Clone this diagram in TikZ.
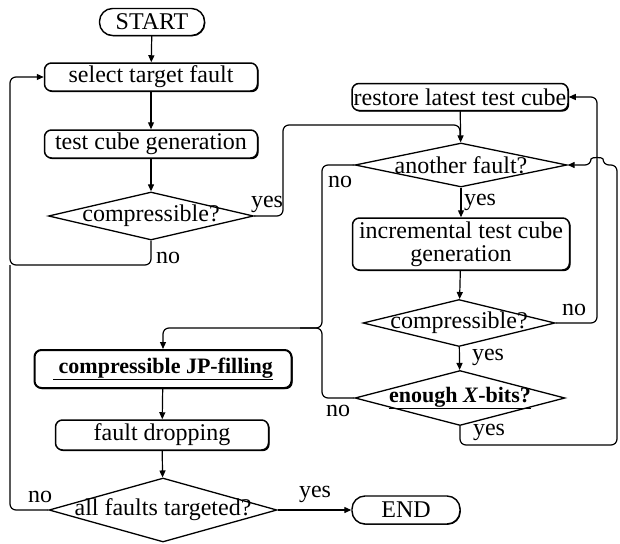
\documentclass[tikz,border=0pt]{standalone}
\usepackage{fontspec}
\setmainfont{Liberation Serif}
\usetikzlibrary{arrows.meta,shapes.geometric,shadows}

\begin{document}
\begin{tikzpicture}[x=1pt,y=-1pt,
  font=\fontsize{24}{25}\selectfont,
  emph/.style={font=\fontsize{22}{24}\selectfont\bfseries},
  shadowed/.style={general shadow={fill=black, shadow xshift=1.2pt, shadow yshift=-1.2pt}},
  procbox/.style={draw, line width=1.5pt, rounded corners=7pt, fill=white,
    minimum width=213pt, minimum height=28pt, inner sep=0pt, align=center, shadowed},
  termbox/.style={draw, line width=1.4pt, rounded corners=13pt, fill=white,
    minimum width=105pt, minimum height=27pt, inner sep=0pt,
    general shadow={fill=black, shadow xshift=0.8pt, shadow yshift=-0.8pt}},
  decision/.style={draw, diamond, line width=1.3pt, inner sep=0pt, fill=white},
  conn/.style={line width=1.2pt, rounded corners=6pt},
  arr/.style={conn, -{Triangle[length=7pt,width=6pt]}},
  tag/.style={inner sep=0pt}
]
\useasboundingbox (0,0) rectangle (620,543);

% left column
\node[termbox] (start) at (152,22) {START};
\node[procbox] (select) at (151,77) {select target fault};
\node[procbox] (tcg) at (151,144) {test cube generation};
\node[decision, minimum width=205pt, minimum height=48pt,
  label={center:compressible?}] (cmp1) at (151,216) {};

% right column
\node[procbox, minimum width=216pt, minimum height=27pt] (restore) at (460,97) {restore latest test cube};
\node[decision, minimum width=212pt, minimum height=44pt,
  label={center:another fault?}] (another) at (461,165) {};
\node[procbox, minimum width=217pt, minimum height=52pt] (incr) at (461,244) {incremental test cube\\[-2pt]generation};
\node[decision, minimum width=192pt, minimum height=47pt,
  label={center:compressible?}] (cmp2) at (459,323) {};
\node[decision, minimum width=210pt, minimum height=55pt,
  label={[emph]center:\underline{enough \textit{X}-bits?}}] (xbits) at (460,398) {};

% lower left column
\node[procbox, line width=2pt, minimum width=257pt, minimum height=38pt, emph] (jp) at (163,369)
  {\underline{\ compressible JP-filling}};
\node[procbox, minimum height=30pt] (drop) at (162,435) {fault dropping};
\node[decision, minimum width=228pt, minimum height=64pt,
  label={center:all faults targeted?}] (allf) at (163,510) {};
\node[termbox, minimum width=108pt, minimum height=28pt] (end) at (406,510) {END};

% bend points of the loops
\coordinate (lbot) at (10,265);
\coordinate (jn) at (322,328);

% main flow
\draw[arr] (start) -- (select);
\draw[arr] (select) -- (tcg);
\draw[arr] (tcg) -- (cmp1);
\draw[arr] (cmp1.south) |- (lbot) |- (select.west);
\draw[conn] (cmp1.east) -- (283,216) -- (283,125) -- (460,125) -- (460,140);
\draw[arr] (restore) -- (another);
\draw[arr] (another) -- (incr);
\draw[arr] (incr) -- (cmp2);
\draw[arr] (cmp2) -- (xbits);
\draw[arr] (cmp2.east) -- (597,323) -- (597,97) -- (restore.east);
\draw[arr] (xbits.south) -- (460,445) -- (617,445) -- (617,165) -- (603,165)
  .. controls (603,157) and (591,157) .. (591,165) -- (another.east);
\draw[arr] (another.west) -| (jn) -- (163,328) -- (jp.north);
\draw[conn] (xbits.west) -| (jn) -- (300,328);
\draw[arr] (jp) -- (drop);
\draw[arr] (drop) -- (allf);
\draw[conn] (allf.west) -| (lbot);
\draw[arr] (allf.east) -- (end.west);

% branch labels
\node[tag] (y1) at (267,204) {yes};
\node[tag] (n1) at (168,258) {no};
\node[tag] (n2) at (340,182) {no};
\node[tag] (y2) at (480,202) {yes};
\node[tag] (n3) at (574,310) {no};
\node[tag] (y3) at (488,357) {yes};
\node[tag] (n4) at (338,411) {no};
\node[tag] (y4) at (489,432) {yes};
\node[tag] (n5) at (40,497) {no};
\node[tag] (y5) at (315,494) {yes};
\end{tikzpicture}
\end{document}
